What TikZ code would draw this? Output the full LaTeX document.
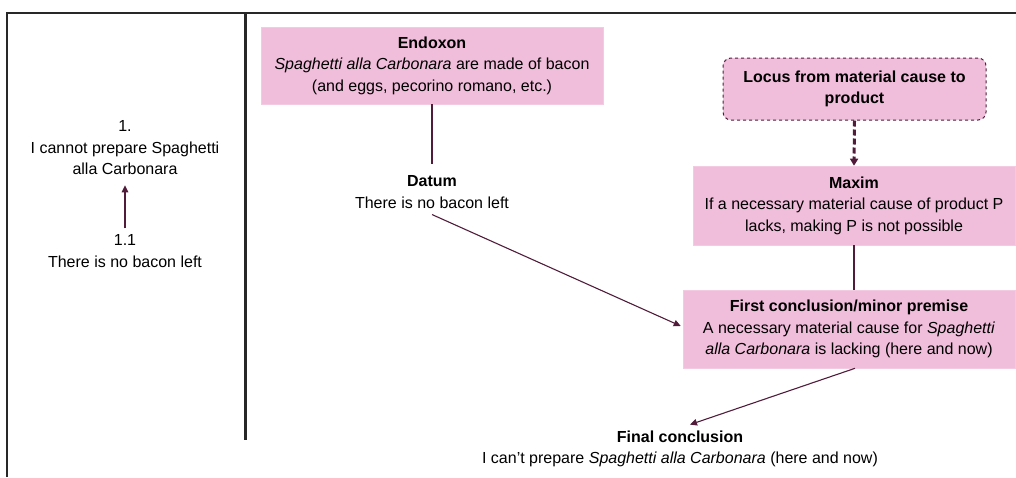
\documentclass[tikz,border=0pt]{standalone}
\usepackage{fontspec}
\setmainfont{Liberation Sans}
\usetikzlibrary{arrows.meta}
\definecolor{pinkfill}{RGB}{240,189,218}
\definecolor{maroon}{RGB}{80,28,58}
\definecolor{framegray}{RGB}{40,40,40}
\tikzset{
  txt/.style={align=center, font=\fontsize{16}{21.5}\selectfont, text=black, inner sep=0pt},
  pbox/.style={txt, fill=pinkfill, draw=pinkfill!80!white, line width=0.6pt},
  conn/.style={draw=maroon, line width=1.1pt},
  arr/.style={conn, -{Triangle[width=6.5pt,length=7pt]}},
  dasharr/.style={draw=maroon, line width=3pt, dash pattern=on 6pt off 3pt, -{Triangle[width=8pt,length=7pt]}},
  frameline/.style={draw=framegray, line width=2pt},
}
\begin{document}
\begin{tikzpicture}[x=1pt,y=-1pt]
\useasboundingbox (0,0) rectangle (1016,477);
% frame
\draw[frameline] (7,477) -- (7,13) -- (1016,13);
\draw[draw=framegray, line width=3pt] (245,13) -- (245,440);

% left panel
\node[txt] (n1) at (125,148) {1.\\I cannot prepare Spaghetti\\alla Carbonara};
\node[txt] (n11) at (125,251) {1.1\\There is no bacon left};
\draw[arr] ([yshift=6pt]n11.north) -- ([yshift=-10pt]n1.south);

% boxes
\node[pbox, minimum width=342pt, minimum height=77pt] (endoxon) at (432,65.5)
  {\textbf{Endoxon}\\\textit{Spaghetti alla Carbonara} are made of bacon\\(and eggs, pecorino romano, etc.)};
\node[txt] (datum) at (432,192) {\textbf{Datum}\\There is no bacon left};
\node[pbox, draw=maroon, dashed, line width=1pt, rounded corners=8pt, minimum width=263pt, minimum height=62pt] (locus) at (854.5,89)
  {\textbf{Locus from material cause to}\\\textbf{product}};
\node[pbox, minimum width=322pt, minimum height=79pt] (maxim) at (854,205.5)
  {\textbf{Maxim}\\If a necessary material cause of product P\\lacks, making P is not possible};
\node[pbox, minimum width=332pt, minimum height=78pt] (first) at (849,329)
  {\textbf{First conclusion/minor premise}\\A necessary material cause for \textit{Spaghetti}\\\textit{alla Carbonara} is lacking (here and now)};
\node[txt] (final) at (680,449) {\textbf{Final conclusion}\\I can’t prepare \textit{Spaghetti alla Carbonara} (here and now)};

% connectors
\draw[conn] (endoxon.south) -- ([yshift=11pt]datum.north);
\draw[arr] ([yshift=-6pt]datum.south) -- ([xshift=-2pt,yshift=3pt]first.west);
\draw[dasharr] (locus.south) -- (maxim.north);
\draw[conn] (maxim.south) -- (first.north -| maxim.south);
\draw[arr] ([xshift=6pt]first.south) -- ([xshift=10pt,yshift=6pt]final.north);
\end{tikzpicture}
\end{document}
